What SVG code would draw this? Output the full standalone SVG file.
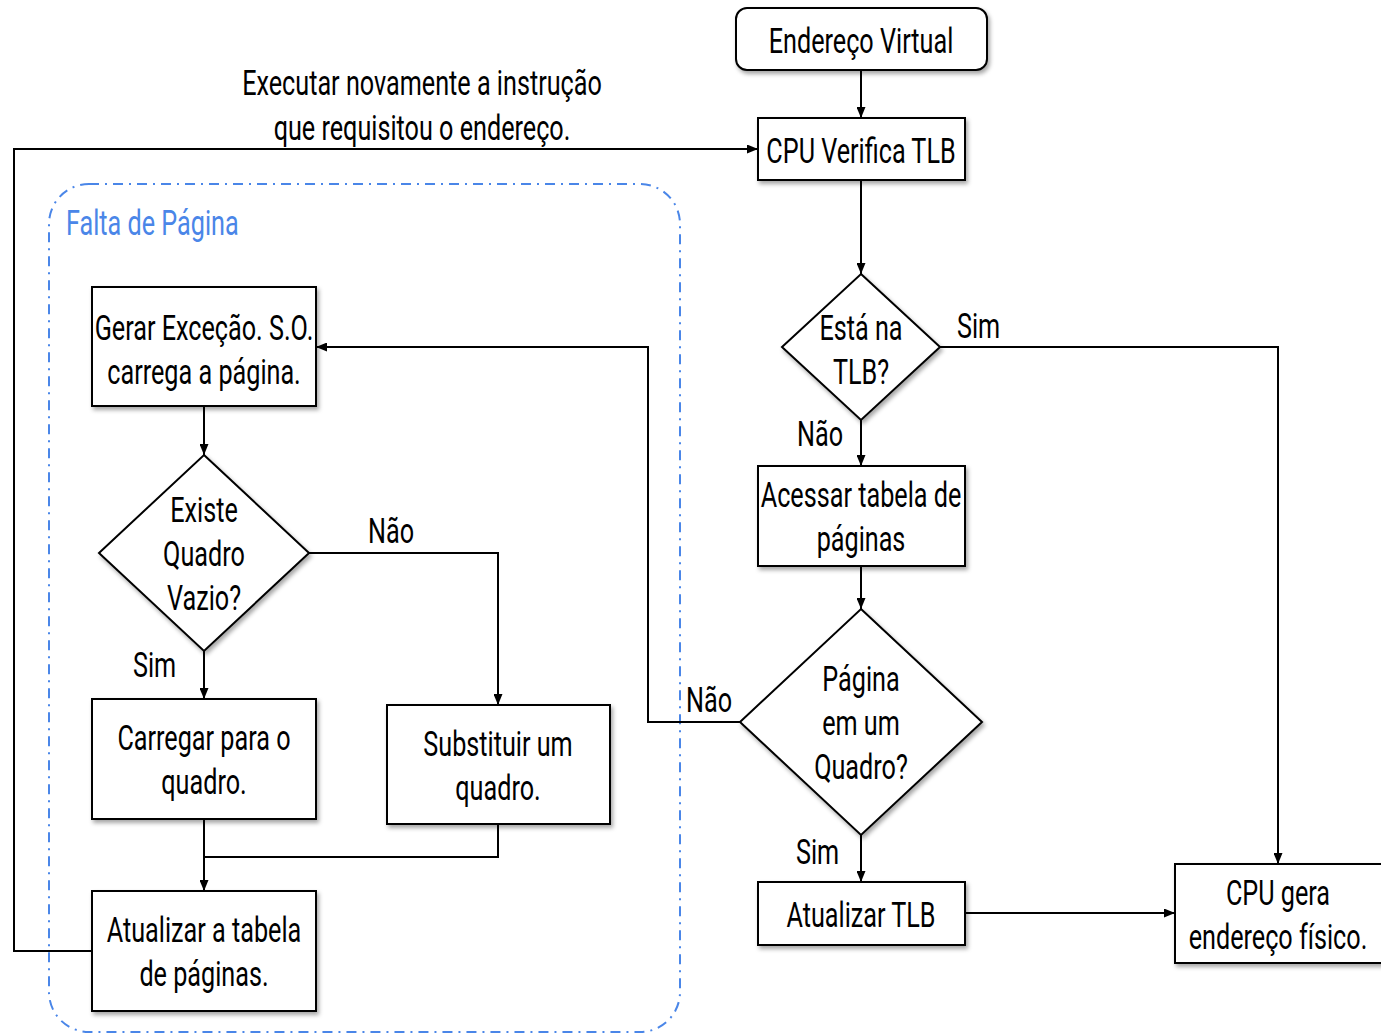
<svg xmlns="http://www.w3.org/2000/svg" width="1381" height="1034" viewBox="0 0 1381 1034">
  <style>
    .box { fill: #ffffff; stroke: #000000; stroke-width: 2; filter: url(#shadow); }
    .edge { fill: none; stroke: #000000; stroke-width: 2; }
    .arrow { marker-end: url(#head); }
    .t { font-family: Roboto, "Liberation Sans", sans-serif; font-weight: 400; font-size: 35px; fill: #000000; text-anchor: middle; }
    .lbl { text-anchor: start; }
    .blue { fill: #4a86e8; }
    .region { fill: none; stroke: #4a86e8; stroke-width: 2; stroke-dasharray: 10 6 2 6; }
  </style>
  <defs>
    <filter id="shadow" x="-10%" y="-10%" width="125%" height="125%">
      <feDropShadow dx="2" dy="3" stdDeviation="2" flood-color="#000000" flood-opacity="0.35"/>
    </filter>
    <marker id="head" viewBox="0 0 10 10" refX="10" refY="5" markerWidth="11" markerHeight="9" markerUnits="userSpaceOnUse" orient="auto" preserveAspectRatio="none">
      <path d="M0,0 L10,5 L0,10 z" fill="#000000"/>
    </marker>
  </defs>
  <rect width="1381" height="1034" fill="#ffffff"/>

  <!-- page-fault region -->
  <g id="falta-de-pagina">
    <rect class="region" x="49" y="184" width="631" height="848" rx="40"/>
    <text class="t lbl blue" transform="translate(66,235) scale(0.72,1)">Falta de Página</text>
  </g>

  <!-- connectors -->
  <g id="connectors">
    <path class="edge arrow" d="M861,70 V118"/>
    <path class="edge arrow" d="M861,180 V274"/>
    <path class="edge arrow" d="M940,347 H1278 V864"/>
    <path class="edge arrow" d="M861,420 V466"/>
    <path class="edge arrow" d="M861,566 V609"/>
    <path class="edge arrow" d="M861,835 V882"/>
    <path class="edge arrow" d="M965,913 H1175"/>
    <path class="edge arrow" d="M740,722 H648 V347 H316"/>
    <path class="edge arrow" d="M204,406 V455"/>
    <path class="edge arrow" d="M309,553 H498 V705"/>
    <path class="edge arrow" d="M204,651 V699"/>
    <path class="edge arrow" d="M204,819 V891"/>
    <path class="edge" d="M498,824 V857 H204"/>
    <path class="edge arrow" d="M92,951 H14 V149 H758"/>
    <text class="t" transform="translate(422,95) scale(0.72,1)">Executar novamente a instrução</text>
    <text class="t" transform="translate(422,140) scale(0.72,1)">que requisitou o endereço.</text>
    <text class="t lbl" transform="translate(957,338) scale(0.72,1)">Sim</text>
    <text class="t lbl" transform="translate(797,446) scale(0.72,1)">Não</text>
    <text class="t lbl" transform="translate(686,712) scale(0.72,1)">Não</text>
    <text class="t lbl" transform="translate(796,864) scale(0.72,1)">Sim</text>
    <text class="t lbl" transform="translate(368,543) scale(0.72,1)">Não</text>
    <text class="t lbl" transform="translate(133,677) scale(0.72,1)">Sim</text>
  </g>

  <g id="endereco-virtual">
    <rect class="box" x="736" y="8" width="251" height="62" rx="11"/>
    <text class="t" transform="translate(861,53) scale(0.72,1)">Endereço Virtual</text>
  </g>

  <g id="cpu-verifica-tlb">
    <rect class="box" x="758" y="118" width="207" height="62"/>
    <text class="t" transform="translate(861,163) scale(0.72,1)">CPU Verifica TLB</text>
  </g>

  <g id="esta-na-tlb">
    <polygon class="box" points="861,274 940,347 861,420 782,347"/>
    <text class="t" transform="translate(861,340) scale(0.72,1)">Está na</text>
    <text class="t" transform="translate(861,384) scale(0.72,1)">TLB?</text>
  </g>

  <g id="acessar-tabela">
    <rect class="box" x="758" y="466" width="207" height="100"/>
    <text class="t" transform="translate(861,507) scale(0.72,1)">Acessar tabela de</text>
    <text class="t" transform="translate(861,551) scale(0.72,1)">páginas</text>
  </g>

  <g id="pagina-em-quadro">
    <polygon class="box" points="861,609 982,722 861,835 740,722"/>
    <text class="t" transform="translate(861,691) scale(0.72,1)">Página</text>
    <text class="t" transform="translate(861,735) scale(0.72,1)">em um</text>
    <text class="t" transform="translate(861,779) scale(0.72,1)">Quadro?</text>
  </g>

  <g id="atualizar-tlb">
    <rect class="box" x="758" y="882" width="207" height="63"/>
    <text class="t" transform="translate(861,927) scale(0.72,1)">Atualizar TLB</text>
  </g>

  <g id="cpu-gera-endereco">
    <rect class="box" x="1175" y="864" width="210" height="99"/>
    <text class="t" transform="translate(1278,905) scale(0.72,1)">CPU gera</text>
    <text class="t" transform="translate(1278,949) scale(0.72,1)">endereço físico.</text>
  </g>

  <g id="gerar-excecao">
    <rect class="box" x="92" y="287" width="224" height="119"/>
    <text class="t" transform="translate(204,340) scale(0.72,1)">Gerar Exceção. S.O.</text>
    <text class="t" transform="translate(204,384) scale(0.72,1)">carrega a página.</text>
  </g>

  <g id="existe-quadro-vazio">
    <polygon class="box" points="204,455 309,553 204,651 99,553"/>
    <text class="t" transform="translate(204,522) scale(0.72,1)">Existe</text>
    <text class="t" transform="translate(204,566) scale(0.72,1)">Quadro</text>
    <text class="t" transform="translate(204,610) scale(0.72,1)">Vazio?</text>
  </g>

  <g id="carregar-quadro">
    <rect class="box" x="92" y="699" width="224" height="120"/>
    <text class="t" transform="translate(204,750) scale(0.72,1)">Carregar para o</text>
    <text class="t" transform="translate(204,794) scale(0.72,1)">quadro.</text>
  </g>

  <g id="substituir-quadro">
    <rect class="box" x="387" y="705" width="223" height="119"/>
    <text class="t" transform="translate(498,756) scale(0.72,1)">Substituir um</text>
    <text class="t" transform="translate(498,800) scale(0.72,1)">quadro.</text>
  </g>

  <g id="atualizar-tabela">
    <rect class="box" x="92" y="891" width="224" height="120"/>
    <text class="t" transform="translate(204,942) scale(0.72,1)">Atualizar a tabela</text>
    <text class="t" transform="translate(204,986) scale(0.72,1)">de páginas.</text>
  </g>
</svg>
